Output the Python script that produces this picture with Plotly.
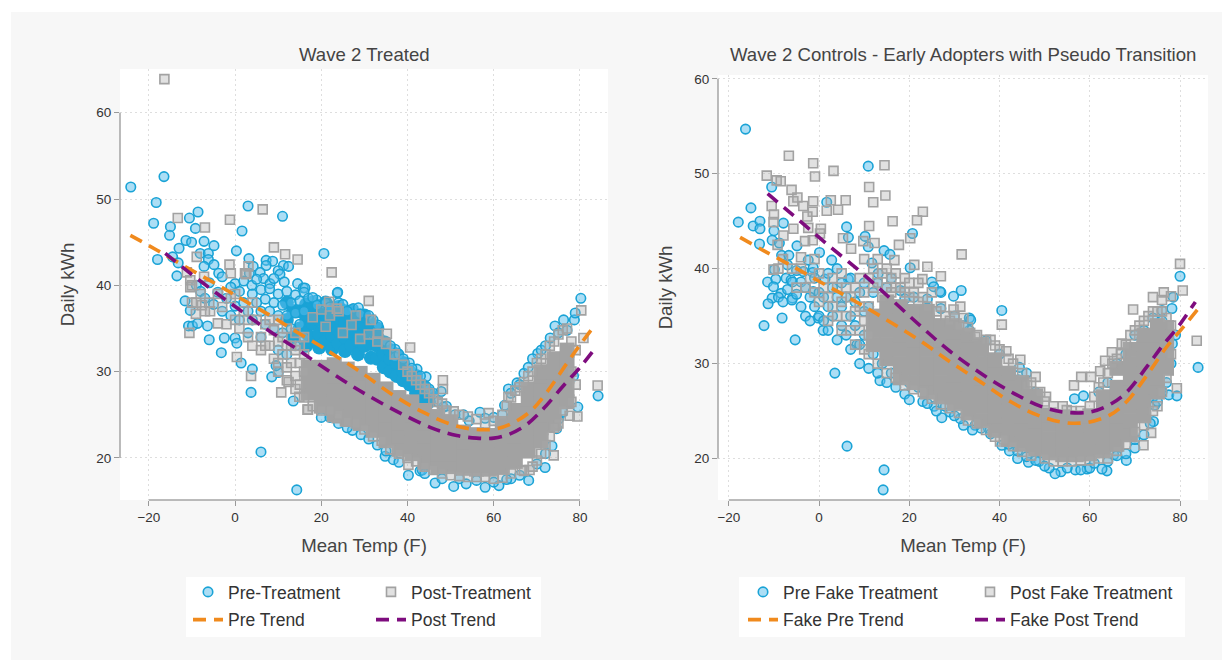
import plotly.graph_objects as go

# ---------- left panel data ----------
L_pre_pts = [(-24.2,51.4),(-16.5,52.6),(-18.3,49.6),(-18.9,47.2),(-15,46.8),(-15.2,45.8),(-18,43),(-10.6,47.8),(-8.6,48.5),(-9.2,46.6),(-11.4,45.2),(-10.1,45),(-7.2,45.1),(-4.9,44.6),(-13,44.3),(-8.1,43.7),(-6.2,43.7),(-6.2,43),(-14.5,43.3),(-13.2,42.6),(-7.2,42.2),(-4.9,42.4),(-3.8,41.4),(-13.5,41.1),(3,49.2),(11,48),(1.6,46.3),(0.3,44),(20.6,43.7),(3.2,43.1),(4.2,42.2),(7.2,42.9),(8.7,42.8),(11.2,42.3),(12.4,42.2),(7.2,42.3),(5.8,41.5),(10,41.7),(10.4,41.3),(3.3,41.4),(6.6,40.8),(0,40.2),(11.4,40.4),(8.1,40.2),(14.5,40.2),(3.9,40),(15.8,39.7),(23.7,39.1),
(-11.6,38.2),(-10.4,37.1),(-10.8,35.3),(-9.9,35.3),(-8.7,35.6),(-6.4,35.3),(-6,33.7),(-2.5,33.9),(-3.2,32.2),(0,33.9),(.4,33.3),(1.4,31),(4,30.3),(3.7,27.6),(8.5,29.4),(10,29.9),(9.5,30.7),(6,20.7),(14.3,16.3),(13.5,26.6),(20,24.7),(27.2,23.2),(23.8,39.2),(16.2,39.7),(18.9,38.3),(20.5,37.8),
(27.4,37.3),(28.6,37.4),(33.1,35.4),(37.1,32.6),(37.1,31.7),(40.4,31),(42.2,30.3),(44.3,29.4),(44.3,28.3),(47.8,27.7),(48.3,25.9),(56.8,25.3),(54.3,24.3),(63.4,28),(62.5,26.1),(65.4,28.7),(70.2,32.1),(73.1,33.9),(74.2,35.3),(76.2,36),(78.7,36),(78.9,36.8),(80.2,38.5),(84.2,27.2),(79.5,25.9),(78.5,29.5),(29.2,22.7),(34.8,20.2),(36.7,19.8),(40.2,18),(42.9,18.5),(43.4,18.6),(46.4,17.1),(50.7,16.7),(53.6,17),(58,16.6),(61.2,16.8),(64,17.6),(68.1,17.4),(71.9,18.9),(73.5,21.4),(74.6,23.4),
(-9,40),(-8,39.3),(-7,38.5),(-6,40.3),(-5,37.8),(-4,39.2),(-3,41),(-3,37),(-2,38.5),(-1,39.8),(-1,36.5),(0,37.6),(1,39.3),(1,36),(2,38),(2,40.5),(3,37),(3,34.5),(4,39),(4,36),(5,38),(5,40.7),(6,37),(6,39.5),(6,34),(7,38.4),(7,35.5),(8,39.6),(8,37),(9,38),(9,35),(9,40.8),(10,39),(10,36.5),(10,32.5),(11,37.7),(11,34.5),(12,39.3),(12,36.5),(12,32),(13,38),(13,35),(14,36.8),(14,38.9),(14,33),(15,38.2),(15,35.5),(16,37),(16,34),(16,39.2),(17,38.5),(18,38.6),(19,37.7),(21,38),(22,37.5),(24,38),(25,37.8),(26,37),(29,36.7),(31,36.5),(32,36),(35,33.5),(36,33),(38,32),(39,31.5),(41,30.4),(43,29.5),(45,28),(46,27.5),(47,26.5),(49,26),(51,25),(53,25),(58,24.6),(60,24.7),(62,25),(64,27.5),(66,28.5),(67,29.8),(68,30.5),(69,31.5),(71,32.5),(72,33),(75,34.5),(77,34.8),
(22,24.7),(24,24),(26,23.5),(31,22.2),(33,21.5),(35,20.8),(38,19.5),(44,18.2),(48,17.6),(52,17.6),(56,17.4),(60,17.2),(63,17.5),(66,18),(70,19.3),(72,20.5),(75,24.5),(76,25.3)]
L_post_pts = [(-16.4,63.9),(-13.3,47.8),(-7,46.7),(-1.2,47.6),(6.4,48.8),(9,44.4),(11.6,43.6),(14.5,43),(22.4,41.5),(-1.3,42.4),(-1,41.4),(2.6,41.3),(3.1,42.2),(-8.9,43.3),(-11.2,41.5),(-7.2,41),(-10.4,40.6),(-10.4,39.8),(-10.6,34.5),(-9.1,36.7),(-7.7,37.7),(-4,35.6),(-5.8,37),(.4,31.7),(3.7,29.5),(10.7,27.6),(16.9,25.6),(14.9,27.1),(12.4,28.8),(2.3,41.4),(31,38.2),(21.8,38.1),(23.6,37.3),(31.5,36),(35.2,34.4),(33.2,34.4),(40.6,32.8),(48.2,29),(48.2,28),(50.7,25.4),(58.8,25.2),(63.4,27.1),(80.8,33.9),(80.3,37.1),(84.1,28.4),(79.4,24.8),(77.6,24.9),(73.9,20.3),(68.3,18.6),(66.5,18.6),(40.2,19.2),(16.8,25.6),(23.6,24.6),
(18,36.3),(20,37.2),(21,35.2),(22,36.5),(24,37),(25,34.5),(27,35.4),(28,36.5),(29,33.8),(31,34.3),(33,33.5),(35,33.2),(37,32),(39,30.8),(40,30),(41,29.5),(42,29),(43,28.5),(44,28),(45,27.5),(46,26.8),(47,26.5),(48,26.3),(49,25.5),(52,25),(54,24.8),(56,24.5),(58,24),(60,24.3),(62,25),(63,26),(64,27),(65,27.8),(66,28.2),(67,28.8),(68,29.5),(69,30),(70,31),(71,31.5),(72,32),(73,33),(74,33.5),(75,34.3),(76,34.8),(77,35),(78,33.5),(79,32.5),(78,30),(79,28.5),(78,26.5),(76,25.5),(75,24),(74,23.5),(73,22.5),(72,21.5),(71,20.5),(70,19.7),(69,19),(67,18.5),(64,18.2),(62,17.7),(60,17.6),(58,17.8),(56,17.8),(54,17.8),(52,17.9),(50,18),(48,18.2),(46,18.6),(44,19),(42,19.6),(40,20),(38,20.5),(36,21),(34,22),(32,22.5),(30,23.3),(28,24),(26,24.2),(24,25),(22,25.5),(20,25.5),(18,26),(16,27),(14,28),(12,29),(10,30),
(-10,40),(-10,38),(-9,38),(-8,39),(-7,37),(-6,38),(-4,39),(-3,37.5),(-2,35.5),(-1,38.5),(0,39),(0,36),(1,35),(2,37),(3,36),(3,34),(4,38),(4,33),(5,36),(6,34),(6,32.5),(7,35.5),(7,33),(8,36),(8,33),(9,34.8),(9,31.5),(10,36),(10,33.5),(10,31),(11,34),(11,32),(12,35),(12,33),(12,30.5),(13,33),(13,31),(14,34.5),(14,32.5),(14,29.5),(15,33),(15,31),(15,28.5),(16,34),(16,32),(16,30)]
L_pre_core_x = [12,13.5,15,16.5,18,19.5,21,22.5,24,25.5,27,28.5,30,31.5,33,34.5,36,37.5,39,40.5,42,43.5,45]
L_pre_core_y = [[36,38],[34,37],[35,37],[33,34.5,36,37.8],[34,35.6,37,38],[32.8,34.4,36,37.6],[33.5,35,36.6,38],[32.6,34.2,35.8,37.4],[33.3,34.8,36.3,37.5],[32.4,34,35.6,37],[33,34.5,36,37],[32,33.6,35.2,36.4],[33,34.5,35.5,36.5],[31.6,33.2,34.8,35.6],[31.5,33,34,35],[30.5,32,33.4],[30,31.5,32.5],[29.5,31,32],[29,30,31],[28.5,30],[27.5,28.5,29.5],[27,28.4],[26.5,27.5]]
L_post_core_x = [17,20,23,26,29,32,35,38,41,44,47,50,53,56,59,62,65,68,71,74,77]
L_post_core_y = [[27.5,29,30.5],[26,27.5,29,30.5],[25,26.5,28,29.5,30.8],[24.5,26,27.5,29,30.3],[24,25.5,27,28.5,29.8],[23.2,24.7,26.2,27.7,29],[22,23.5,25,26.5,28],[21,22.5,24,25.5,27],[20.5,22,23.5,25,26.5],[19.5,21,22.5,24,25.5],[19,20.5,22,23.5,24.8],[19,20.5,22,23.5,24.2],[18.8,20.3,21.8,23],[18.7,20.2,21.7,22.7],[18.7,20.2,21.7,22.6],[18.9,20.4,21.9,23.4,24],[19.6,21,22.5,24,25.5],[20.8,22.3,23.8,25.3,26.8,28],[22,23.5,25,26.5,28,29.5,30],[24,25.5,27,28.5,30,31.5],[26.5,28,29.5,31,32.5]]
L_pre_trend_x = [-24.3,-18.2,-12,-3.5,1.9,8.9,14.3,19.7,22.8,29,36,43.6,50.7,56,60.8,64.6,68.5,72.3,77,80,83.3]
L_pre_trend_y = [45.8,44.1,42.3,39.9,38.3,36.3,34.6,33,32,30,27.5,25.3,23.8,23.3,23.4,24.1,25.4,27.6,31,33.1,35.3]
L_post_trend_x = [-16.2,-10.4,-4.6,.4,6.5,10.4,15,19,25,30.6,38.3,46,51.4,56,60,63.8,67.7,71.5,76.2,80,83.8]
L_post_trend_y = [43.7,41.4,39.2,37.4,35.2,33.9,32.4,31,29,27.3,25.2,23.4,22.6,22.3,22.3,22.8,23.9,25.7,28.4,30.5,32.9]

# ---------- right panel data ----------
R_pre_pts = [(-16.3,54.7),(-17.9,44.9),(-15.1,46.4),(-14.6,44.5),(-13.1,45),(-13.1,44.2),(-13.2,42.6),(-10.5,48.6),(-7.9,44.8),(-10,44),(-10.4,43),(-8.8,42.7),(-4.9,42.4),(-8.3,41.4),(-6.7,41.4),(-7,40.4),(-9.9,39.9),(-11.4,38.6),(-9.6,38.9),(-10.1,38.1),(-7.3,39),(-6.2,38.8),(-5.9,38.6),(-4,38.6),(-3.5,39.7),(-2.4,40.9),(-1.3,40.1),(-1.4,39.6),(1.3,38.9),(.1,41.7),(2.8,40.9),(1.7,47),(10.9,50.8),(6.1,44.4),(6.5,43.3),(10.2,43.4),(20.7,43.7),(10.9,42.3),(14.4,41.9),(15.7,41.5),(11.7,40.6),(13.1,39.5),(6.5,38.9),(20.2,40.1),(25,38.6),(25.4,38.1),(27,37.5),(31.5,37.7),(29.8,37.1),(-1.3,37.6),(-5.9,36.9),(-8.4,37.4),(-10.4,36.9),
(-11.3,36.3),(-8.2,34.8),(-12.2,34),(3.5,29),(-.2,34.8),(-3,35),(6.2,21.3),(14.4,18.8),(14.2,16.7),(13.5,28.2),(8.4,32),(-5.3,32.5),(.9,33.5),
(80,39.2),(26.8,37.6),(33.3,34.8),(33.6,34.6),(33.3,33.5),(40.5,35.6),(37,32.4),(44.4,29.6),(44.2,28.3),(47.9,27),(56.6,26.3),(58.6,26.6),(76,35.6),(78.2,35.8),(78.3,32.1),(77.5,32.8),(84,29.6),(77.5,26.7),(79.3,26.6),(74.1,23.9),(73.4,23.7),(74.4,25.6),(70,21.1),(68.1,19.8),(65.3,20.4),(63.8,18.7),(62.7,18.9),(59.4,18.9),(56.8,18.8),(53.6,18.6),(52.3,18.4),(51,19),(48.8,19.7),(46.4,19.6),(44,20),(42.2,20.8),(40.5,21.4),(37.5,23.2),(35.9,23.2),(34.6,23.5),(32,23.5),(31.3,24.2),(27.2,24.3),(25.5,25.5),(29,24.9),(23.3,27.4),(26.1,27),
(-9,37),(-8,36.5),(-7,37.8),(-6,36.7),(-5,39.8),(-5,37.3),(-4,36),(-3,38),(-2,37),(-2,34.5),(-1,39),(-1,36),(0,37.5),(0,35),(1,34.5),(1,37),(2,39.5),(2,36),(2,33.5),(3,38),(3,35),(4,37),(4,40),(4,32.5),(5,36),(5,34),(5,38.5),(6,33),(6,37),(7,35),(7,39),(7,31.5),(8,36.5),(8,34),(9,32),(9,37.5),(9,30),(10,35.5),(10,38.5),(10,33),(11,36),(11,29.5),(12,31),(12,37.5),(13,29),(13,38.5),(14,30),(15,28),(15,38),(16,29),(16,39),(17,27.5),(18,28.5),(18,37.7),(19,26.8),(19,36.8),(20,26.2),(20,28),(21,29),(21,37),(22,27.5),(23,26),(24,36.8),(24,25.8),(25,27),(26,25),(27,35.8),(28,25.5),(30,24.5),(30,35),(32,34),(34,23),(36,31),(38,22.6),(40,31),(42,21.5),(44,20.8),(46,29),(46,20.2),(48,19.8),(50,19.2),(55,19),(58,18.8),(60,19),(61,19.5),(64,19.7),(66,20.3),(68,20.5),(70,22),(72,22.5),(74,26.5),(75,26),(76,27),(77,28),(76,34.5),(74,34.8),(72,33.5),(70,33),(68,31),(66,30),(64,28),(62,27),(79,33),(78,30),(78.5,37)]
R_post_pts = [(-6.7,51.9),(-1.3,51.1),(3.2,50.3),(14.5,50.9),(-.9,49.7),(-11.6,49.8),(-9.4,49.3),(-8.5,49.2),(11.1,48.6),(14.7,47.7),(-6.1,48.3),(-5.7,47.1),(-4.8,47.5),(-3.5,46.6),(-1.3,47.1),(5.9,47.2),(2.6,47.2),(1.7,46.1),(4.2,46.2),(-1.4,46),(12,47),(-10.5,46.6),(-10,45.7),(-10.1,44.9),(-2.6,45.5),(23,46),(21.7,45.1),(16.3,45),(11.1,44.5),(.4,44.2),(-5.7,44.2),(-2.4,44.3),(-7.9,43.5),(.2,43.7),(-3.1,42.9),(-1.4,43),(5.3,43.2),(20.2,43.2),(9.8,42.9),(12.3,42.7),(17.7,42.5),(31.6,41.5),(-9.2,42.5),(-4,41.2),(7.1,42.1),(16.7,40.9),(24,40.2),(21.1,40.4),(27,39.2),(22.9,38.9),(-10.1,39.9),
(80,40.5),(80.6,37.7),(83.7,32.4),(40.5,34.1),(69.6,35.7),(74,37),(76.4,37.5),(78,37.1),(76,36.7),(48,28.6),(56.5,27.7),(58.1,28.6),(60.3,28.6),(62.3,29.2),(63.4,30.3),(64.9,31.2),(67.1,32.1),(44.6,30.4),(79.3,27.4),(73.6,22.7),(71.9,21.4),(40.1,21.8),(50.3,26.5),(54.9,25.1),(31.3,36),(29.8,35.7),(34.6,32.8),(39,31.9),(41.5,31.3),(46.1,27.7),
(-9,40),(-8,41),(-6,40),(-5,38),(-4,40),(-3,38),(-2,39),(-1,41),(-1,37.5),(0,39.5),(0,36.5),(1,38),(2,37),(2,34.5),(3,39),(3,36),(4,38),(4,35),(5,36.5),(5,39.5),(5,33.5),(6,38),(6,35),(7,37),(7,33.5),(8,38),(8,35.5),(8,32),(9,39),(9,36),(9,33.5),(10,41),(10,37.5),(10,34.5),(10,31.5),(11,39),(11,36),(11,33),(12,40),(12,38),(13,41),(13,38.5),(14,39.5),(14,37),(15,40),(15,38),(16,39),(16,37.5),(17,39.5),(17,38),(18,38),(19,39),(19,37.5),(20,38.5),(20,37),(21,37.5),(22,38.5),(22,36.5),(23,37),(24,36),(25,37.5),(26,35.5),(27,36),(28,35),(29,34.5),(30,35),(31,34),(32,34.8),(33,33.8),(35,33),(37,32.5),(38,32.5),(40,31.5),(42,30.5),(43,30),(45,29),(47,28),(49,27),(50,26),(52,25.5),(54,25.5),(56,25),(58,25),(60,25.5),(61,26.5),(62,27.5),(63,28),(64,29),(65,30),(66,30.5),(67,31),(68,32),(69,33),(70,33.5),(71,34),(72,34.5),(73,35),(74,35.5),(75,35.5),(76,35.5),(77,34.8),(78,34),(78,31),(77,28.5),(76,27),(75,25.5),(74,25),(72,23.5),(70,22.8),(68,21.5),(66,20.8),(64,20),(62,20),(60,19.8),(58,19.8),(56,19.7),(54,19.7),(52,19.7),(50,20),(47,20.3),(45,20.7),(43,21.3),(41,22),(39,22.3),(37,23),(35,23.7),(33,24),(31,24.8),(29,25.3),(27,25.7),(25,26.3),(23,27),(21,27.3),(19,27.7),(17,28.5),(15,29),(13,30),(11,31)]
R_post_core_x = [12,15,18,21,24,27,30,33,36,39,42,45,48,51,54,57,60,63,66,69,72,75,77]
R_post_core_y = [[32,33.5,35],[30.5,32,33.5,35,36.5],[28.5,30,31.5,33,34.5,36],[28,29.5,31,32.5,34,35.5],[27,28.5,30,31.5,33,34.5,35.5],[26.5,28,29.5,31,32.5,34],[25.8,27.3,28.8,30.3,31.8,33.3,34],[24.8,26.3,27.8,29.3,30.8,32.3,33],[24,25.5,27,28.5,30,31.5,32],[23,24.5,26,27.5,29,30.4],[22,23.5,25,26.5,28,29],[21.5,23,24.5,26,27.5,28],[21,22.5,24,25.5,26.6],[20.6,22.1,23.6,24.6],[20.4,21.9,23.4,24.4],[20.4,21.9,23.4,24.3],[20.5,22,23.5,24.5],[20.8,22.3,23.8,25.3,26.5],[21.5,23,24.5,26,27.5,29.5],[22.5,24,25.5,27,28.5,30,31.5],[24.5,26,27.5,29,30.5,32,33],[27,28.5,30,31.5,33,34],[29.5,31,32.5,33.8]]
R_pre_trend_x = [-17.5,-12.3,-5.7,-.5,7.5,15,22.4,29,35.7,42.4,48.3,54.2,59.4,64.5,68.2,72.7,77.1,80.8,83.9]
R_pre_trend_y = [43.3,41.9,40.2,38.8,36.7,34.6,32.4,30.2,28.1,26,24.6,23.8,23.8,24.6,26,28.8,31.8,33.9,35.7]
R_post_trend_x = [-11.4,-4.2,1.7,9.1,15,22.4,29,36.4,43.8,49.7,54.1,60.1,64.5,68.2,72.7,76.3,79.3,83.4]
R_post_trend_y = [47.9,45,42.6,39.7,37.2,34,31.3,28.8,26.7,25.4,24.9,24.9,25.7,27,29.7,32,33.7,36.5]

x_ticks = [-20, 0, 20, 40, 60, 80]
y_ticks = [20, 30, 40, 50, 60]
titles = ["Wave 2 Treated", "Wave 2 Controls - Early Adopters with Pseudo Transition"]
left_names = ["Pre-Treatment", "Post-Treatment", "Pre Trend", "Post Trend"]
right_names = ["Pre Fake Treatment", "Post Fake Treatment", "Fake Pre Trend", "Fake Post Trend"]

W, H = 1232, 667
FONT = "Liberation Sans, Arial, sans-serif"
BLUE, BLUE_FILL = "#1aa3d6", "rgba(90,190,235,0.5)"
GRAY, GRAY_FILL = "#a2a2a2", "rgba(170,170,170,0.35)"
ORANGE, PURPLE = "#f08a1d", "#7e0c7e"


def px_x(p):
    return p / W


def px_y(p):
    return 1 - p / H


def expand(xs, yss):
    return ([x for x, ys in zip(xs, yss) for _ in ys], [y for ys in yss for y in ys])


fig = go.Figure()


def panel(xa, ya, leg1, leg2, names, pre_pts, post_pts, pre_core, post_core, pre_t, post_t):
    ax = dict(xaxis=xa, yaxis=ya)
    if pre_core:
        cx, cy = expand(*pre_core)
        fig.add_trace(go.Scatter(x=cx, y=cy, mode="markers", showlegend=False, hoverinfo="skip",
                                 marker=dict(symbol="circle", size=14, color=BLUE, line=dict(width=0)), **ax))
    fig.add_trace(go.Scatter(x=[p[0] for p in pre_pts], y=[p[1] for p in pre_pts], mode="markers", name=names[0],
                             legend=leg1, legendgroup=names[0],
                             marker=dict(symbol="circle", size=9.5, color=BLUE_FILL, line=dict(color=BLUE, width=1.6)), **ax))
    cx, cy = expand(*post_core)
    fig.add_trace(go.Scatter(x=cx, y=cy, mode="markers", showlegend=False, hoverinfo="skip",
                             marker=dict(symbol="square", size=15, color=GRAY, line=dict(width=0)), **ax))
    fig.add_trace(go.Scatter(x=[p[0] for p in post_pts], y=[p[1] for p in post_pts], mode="markers", name=names[1],
                             legend=leg2, legendgroup=names[1],
                             marker=dict(symbol="square", size=9, color=GRAY_FILL, line=dict(color=GRAY, width=1.6)), **ax))
    fig.add_trace(go.Scatter(x=pre_t[0], y=pre_t[1], mode="lines", name=names[2], legend=leg1, legendgroup=names[2],
                             line=dict(color=ORANGE, width=3.6, dash="13px,8px", shape="spline"), **ax))
    fig.add_trace(go.Scatter(x=post_t[0], y=post_t[1], mode="lines", name=names[3], legend=leg2, legendgroup=names[3],
                             line=dict(color=PURPLE, width=3.6, dash="13px,8px", shape="spline"), **ax))


panel("x", "y", "legend", "legend2", left_names, L_pre_pts, L_post_pts, (L_pre_core_x, L_pre_core_y),
      (L_post_core_x, L_post_core_y), (L_pre_trend_x, L_pre_trend_y), (L_post_trend_x, L_post_trend_y))
panel("x2", "y2", "legend3", "legend4", right_names, R_pre_pts, R_post_pts, None,
      (R_post_core_x, R_post_core_y), (R_pre_trend_x, R_pre_trend_y), (R_post_trend_x, R_post_trend_y))


def xaxis(dom, rng, anchor):
    return dict(domain=[px_x(dom[0]), px_x(dom[1])], range=rng, anchor=anchor, tickvals=x_ticks,
                ticks="outside", ticklen=5, tickwidth=1, tickcolor="#999999", showline=False, zeroline=False,
                showgrid=True, gridcolor="#dedede", griddash="2px,3px", gridwidth=1,
                tickfont=dict(size=13.5, color="#333333", family=FONT),
                title=dict(text="Mean Temp (F)", standoff=14, font=dict(size=18.6, color="#444444", family=FONT)))


def yaxis(dom, rng, anchor):
    return dict(domain=[px_y(dom[1]), px_y(dom[0])], range=rng, anchor=anchor, tickvals=y_ticks,
                ticks="outside", ticklen=5, tickwidth=1, tickcolor="#999999", showline=False, zeroline=False,
                showgrid=True, gridcolor="#dedede", griddash="2px,3px", gridwidth=1,
                tickfont=dict(size=13.5, color="#333333", family=FONT),
                title=dict(text="Daily kWh", standoff=16, font=dict(size=18.6, color="#444444", family=FONT)))


def legend(left, top):
    return dict(x=px_x(left), y=px_y(top), xanchor="left", yanchor="top", orientation="v",
                bgcolor="rgba(0,0,0,0)", borderwidth=0, traceorder="grouped", tracegroupgap=2,
                font=dict(size=17.5, color="#333333", family=FONT), itemclick=False, itemdoubleclick=False)


def rect(x0, x1, y0, y1, color):
    return dict(type="rect", xref="paper", yref="paper", x0=px_x(x0), x1=px_x(x1), y0=px_y(y1), y1=px_y(y0),
                fillcolor=color, line=dict(width=0), layer="below")


def axis_lines(xa, ya, xdom, ydom):
    return [dict(type="line", xref=xa, yref=ydom, x0=min(x_ticks), x1=max(x_ticks), y0=0, y1=0,
                 line=dict(color="#a5a5a5", width=1.5), layer="above"),
            dict(type="line", xref=xdom, yref=ya, x0=0, x1=0, y0=min(y_ticks), y1=max(y_ticks),
                 line=dict(color="#a5a5a5", width=1.5), layer="above")]


LX, LY, RX, RY = (120, 608), (69, 500), (718, 1208), (75, 500)

fig.update_layout(
    width=W, height=H, margin=dict(l=0, r=0, t=0, b=0, autoexpand=False), autosize=False,
    paper_bgcolor="#ffffff", plot_bgcolor="rgba(0,0,0,0)", font=dict(family=FONT),
    xaxis=xaxis(LX, [-26.7, 86.5], "y"), yaxis=yaxis(LY, [15.13, 65.07], "x"),
    xaxis2=xaxis(RX, [-22.4, 86.2], "y2"), yaxis2=yaxis(RY, [15.63, 60.4], "x2"),
    legend=legend(188, 574), legend2=legend(371, 574), legend3=legend(743, 574), legend4=legend(970, 574),
    shapes=[rect(11, 1222, 12, 660, "#f7f7f7"),
            rect(LX[0], LX[1], LY[0], LY[1], "#ffffff"), rect(RX[0], RX[1], RY[0], RY[1], "#ffffff"),
            rect(186, 541, 577, 637, "#ffffff"), rect(739, 1185, 577, 637, "#ffffff")]
           + axis_lines("x", "y", "x domain", "y domain") + axis_lines("x2", "y2", "x2 domain", "y2 domain"),
    annotations=[dict(text=titles[0], xref="paper", yref="paper", x=px_x(364), y=px_y(54), showarrow=False,
                      xanchor="center", yanchor="middle", font=dict(size=18.6, color="#444444", family=FONT)),
                 dict(text=titles[1], xref="paper", yref="paper", x=px_x(963), y=px_y(54), showarrow=False,
                      xanchor="center", yanchor="middle", font=dict(size=18.6, color="#444444", family=FONT))],
)

fig.write_html("out.html", config=dict(displayModeBar=False),
               post_script="document.body.style.margin='0';document.body.style.overflow='hidden';")
